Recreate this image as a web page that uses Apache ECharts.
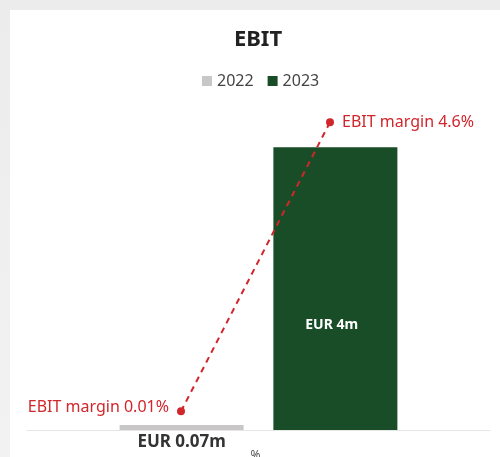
<!DOCTYPE html>
<html><head><meta charset="utf-8">
<script src="https://cdn.jsdelivr.net/npm/echarts@6/dist/echarts.min.js"></script>
<style>
html,body{margin:0;padding:0;background:#efefef;width:500px;height:457px;overflow:hidden;}
#wrap{position:absolute;left:0;top:0;width:500px;height:457px;background:linear-gradient(#ececec,#f2f2f2);}
#c{position:absolute;left:10px;top:10px;width:490px;height:447px;background:#fff;}
</style></head>
<body><div id="wrap"></div><div id="c"></div>
<script>
const seriesNames = ['2022', '2023'];
const ebitValues = [0.07, 4];
const ebitLabels = ['EUR 0.07m', 'EUR 4m'];
const marginYears = ['2022', '2023'];
const marginValues = [0.01, 4.6];
const marginLabels = ['EBIT margin 0.01%', 'EBIT margin 4.6%'];
const colors = ['#c8c6c6', '#184d27'];
const red = '#d0262c';
const font = '"Noto Sans", "Open Sans", sans-serif';

const chart = echarts.init(document.getElementById('c'));
chart.setOption({
  animation: false,
  textStyle: {fontFamily: font},
  title: {text: 'EBIT', left: 243, textAlign: 'center', top: 14,
    textStyle: {fontSize: 22, fontWeight: 'bold', color: '#222', fontFamily: font}},
  legend: {top: 58, left: 187, icon: 'rect', itemWidth: 10, itemHeight: 10, itemGap: 14,
    data: seriesNames, textStyle: {fontSize: 16, color: '#444', fontFamily: font}},
  grid: [
    {left: 17, right: 10, top: 102, bottom: 27, outerBoundsMode: 'none', containLabel: false},
    {left: 171, right: 170, top: 87, bottom: 45, outerBoundsMode: 'none', containLabel: false}
  ],
  xAxis: [
    {type: 'category', gridIndex: 0, data: [''],
      axisLine: {lineStyle: {color: '#e6e6e6'}}, axisTick: {show: false}, axisLabel: {show: false}},
    {type: 'category', gridIndex: 1, data: marginYears, boundaryGap: false,
      axisLine: {show: false}, axisTick: {show: false}, axisLabel: {show: false},
      name: '%', nameLocation: 'middle', nameGap: 38,
      nameTextStyle: {fontSize: 12, color: '#555', fontFamily: font}}
  ],
  yAxis: [
    {type: 'value', gridIndex: 0, min: 0, max: 4.5, show: false},
    {type: 'value', gridIndex: 1, min: 0, max: 5, show: false}
  ],
  series: [
    {name: seriesNames[0], type: 'bar', xAxisIndex: 0, yAxisIndex: 0,
      data: [ebitValues[0]], barWidth: 124, barGap: '24%',
      itemStyle: {color: colors[0]},
      label: {show: true, position: 'bottom', distance: 4, formatter: ebitLabels[0],
        fontSize: 17, fontWeight: 'bold', color: '#333', fontFamily: font}},
    {name: seriesNames[1], type: 'bar', xAxisIndex: 0, yAxisIndex: 0,
      data: [ebitValues[1]], barWidth: 124, barGap: '24%',
      itemStyle: {color: colors[1]},
      label: {show: true, position: ['47%', '63%'], align: 'center', verticalAlign: 'middle',
        formatter: ebitLabels[1], fontSize: 14, fontWeight: 'bold', color: '#fff', fontFamily: font}},
    {name: 'margin', type: 'line', xAxisIndex: 1, yAxisIndex: 1,
      data: marginValues.map((v, i) => ({value: v,
        label: i === 0
          ? {position: 'left', distance: 8, offset: [0, -4]}
          : {position: 'right', distance: 8}})),
      symbol: 'circle', symbolSize: 8,
      itemStyle: {color: red},
      lineStyle: {color: red, width: 2, type: [6, 5]},
      label: {show: true, formatter: p => marginLabels[p.dataIndex],
        fontSize: 16, color: red, fontFamily: font},
      z: 5}
  ]
});
</script></body></html>
